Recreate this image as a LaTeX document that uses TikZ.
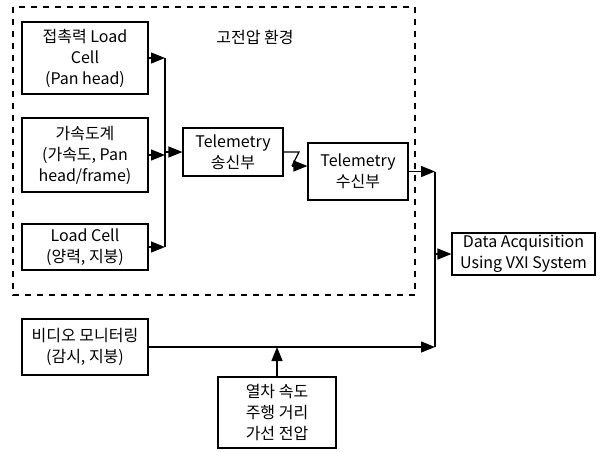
\documentclass[tikz,border=0pt]{standalone}
\usepackage{fontspec}
\setmainfont{Noto Sans CJK KR}
\usetikzlibrary{arrows.meta}

\tikzset{
    blk/.style={draw,line width=0.6pt,align=center,inner sep=1pt,font=\fontsize{8}{10.5}\selectfont},
    arr/.style={-{Triangle[length=7pt,width=5.5pt]},line width=0.6pt}
}

\begin{document}
\begin{tikzpicture}[x=0.5pt,y=-0.5pt]
    \useasboundingbox (0,0) rectangle (600,451);

    % high-voltage environment
    \draw[dashed,line width=0.6pt] (13,7) rectangle (415,295);
    \node[font=\fontsize{8}{10.5}\selectfont] (env) at (255,37) {고전압 환경};

    % sensors
    \node[blk,minimum width=63pt,minimum height=36pt] (contact) at (85,58) {접촉력 Load\\Cell\\(Pan head)};
    \node[blk,minimum width=63pt,minimum height=37pt] (accel) at (85,155) {가속도계\\(가속도, Pan\\head/frame)};
    \node[blk,minimum width=63pt,minimum height=23pt] (load) at (85,247) {Load Cell\\(양력, 지붕)};

    % telemetry
    \node[blk,minimum width=50pt,minimum height=24pt] (tx) at (233,152) {Telemetry\\송신부};
    \node[blk,minimum width=50pt,minimum height=28.5pt] (rx) at (358,171.5) {Telemetry\\수신부};

    % outside
    \node[blk,minimum width=71.5pt,minimum height=21pt] (daq) at (523.5,254) {Data Acquisition\\Using VXI System};
    \node[blk,minimum width=63pt,minimum height=28pt] (video) at (85,347) {비디오 모니터링\\(감시, 지붕)};
    \node[blk,minimum width=59pt,minimum height=35.5pt] (train) at (277,412.5) {열차 속도\\주행 거리\\가선 전압};

    % bus
    \coordinate (bus) at (165,0);
    \coordinate (out) at (435,0);
    \coordinate (z1) at (299,152);
    \coordinate (z2) at (292,166);

    \foreach \s in {contact,accel,load}
        \draw[arr] (\s.east) -- (\s.east -| bus);
    \draw[line width=0.6pt] (contact.east -| bus) -- (load.east -| bus);
    \draw[arr] (tx.west -| bus) -- (tx.west);

    % radio link
    \draw[line width=0.6pt] (tx.east) -- (z1) -- (z2);
    \draw[arr] (z2) -- (z2 -| rx.west);

    % to acquisition
    \draw[arr] (rx.east) -- (rx.east -| out);
    \draw[line width=0.6pt] (rx.east -| out) -- (video.east -| out);
    \draw[arr] (daq.west -| out) -- (daq.west);
    \draw[arr] (video.east) -- (video.east -| out);
    \draw[arr] (train.north) -- (train.north |- video.east);
\end{tikzpicture}
\end{document}
